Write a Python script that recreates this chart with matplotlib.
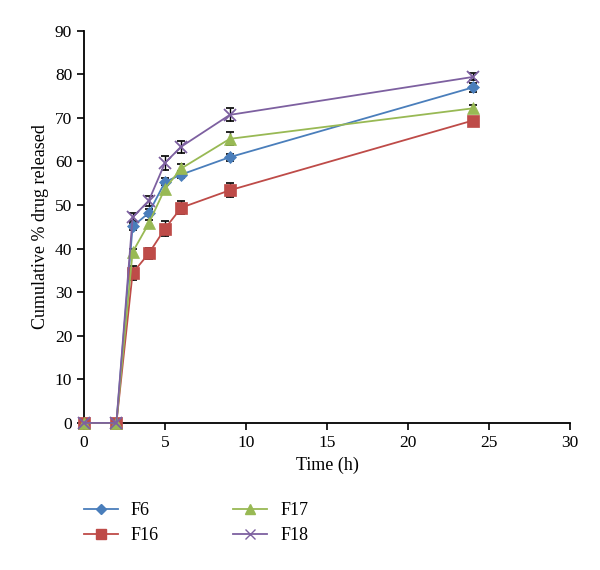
import numpy as np
import matplotlib.pyplot as plt
from matplotlib.lines import Line2D

plt.rcParams['font.family'] = ['Liberation Serif', 'DejaVu Serif']

# Time points (h)
time = [0, 2, 3, 4, 5, 6, 9, 24]

# Cumulative % drug released
f6 = [0, 0, 45.1, 48.2, 55.3, 57.0, 61.0, 77.0]
f16 = [0, 0, 34.4, 38.9, 44.6, 49.4, 53.4, 69.4]
f17 = [0, 0, 39.2, 45.8, 53.8, 58.4, 65.2, 72.2]
f18 = [0, 0, 47.2, 51.0, 59.7, 63.4, 70.7, 79.4]

# error bars (+/- sd)
f6_err = [0, 0, 0.8, 0.8, 0.8, 0.8, 0.8, 1.0]
f16_err = [0, 0, 1.6, 1.3, 1.8, 1.5, 1.6, 0.8]
f17_err = [0, 0, 0.8, 0.8, 1.0, 1.0, 1.5, 0.8]
f18_err = [0, 0, 0.9, 1.1, 1.6, 1.4, 1.5, 0.8]

labels = ['F6', 'F16', 'F17', 'F18']
colors = ['#4a7ebb', '#be4b48', '#98b954', '#7d60a0']
markers = ['D', 's', '^', 'x']
msizes = [6.5, 8.5, 8.5, 8]

fig = plt.figure(figsize=(6.0, 5.7), dpi=100)
ax = fig.add_axes([0.14, 0.258, 0.81, 0.688])

series = [(f6, f6_err), (f16, f16_err), (f17, f17_err), (f18, f18_err)]
handles = []
for (vals, err), lab, c, m, ms in zip(series, labels, colors, markers, msizes):
    ax.errorbar(time, vals, yerr=err, fmt='none', ecolor='black',
                elinewidth=1.0, capsize=3, capthick=1.2, zorder=3)
    ax.plot(time, vals, color=c, marker=m, markersize=ms, linewidth=1.3,
            markeredgecolor=c, markeredgewidth=1.3 if m == 'x' else 0.5,
            zorder=4, clip_on=False)
    handles.append(Line2D([], [], color=c, marker=m, markersize=ms - 1,
                          linewidth=1.3, markeredgecolor=c))

ax.set_xlim(0, 30)
ax.set_ylim(0, 90)
ax.set_xticks(np.arange(0, 31, 5))
ax.set_yticks(np.arange(0, 91, 10))
ax.spines['top'].set_visible(False)
ax.spines['right'].set_visible(False)
ax.spines['left'].set_linewidth(1.3)
ax.spines['bottom'].set_linewidth(1.3)
ax.tick_params(direction='out', length=5, width=1.2, labelsize=12.5)
ax.set_xlabel('Time (h)', fontsize=13)
ax.set_ylabel('Cumulative % drug released', fontsize=13)

fig.legend(handles, labels, ncol=2, loc='lower left',
           bbox_to_anchor=(0.14, 0.045), frameon=False, fontsize=13,
           handlelength=1.9, handletextpad=0.7, columnspacing=4.1,
           labelspacing=0.45, borderpad=0, borderaxespad=0)

fig.savefig('out.png', dpi=100)
